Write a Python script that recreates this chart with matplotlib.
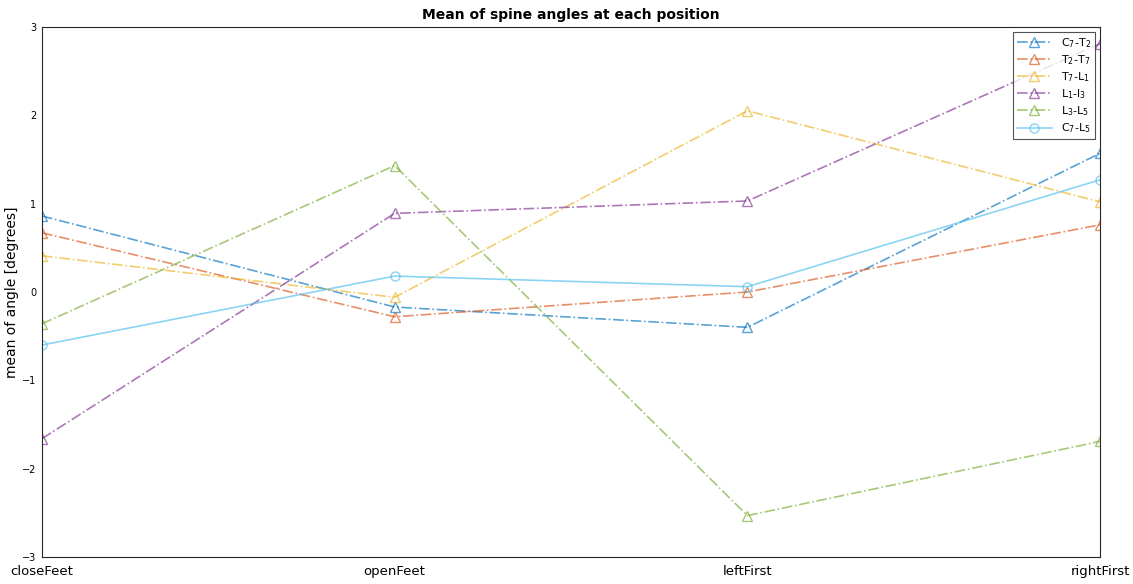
import numpy as np
import matplotlib.pyplot as plt

positions = ["closeFeet", "openFeet", "leftFirst", "rightFirst"]

c7_t2 = [0.86, -0.17, -0.40, 1.57]
t2_t7 = [0.67, -0.28, 0.00, 0.76]
t7_l1 = [0.41, -0.06, 2.05, 1.02]
l1_l3 = [-1.66, 0.89, 1.03, 2.81]
l3_l5 = [-0.36, 1.43, -2.53, -1.69]
c7_l5 = [-0.60, 0.18, 0.06, 1.27]

labels = ["C$_7$-T$_2$", "T$_2$-T$_7$", "T$_7$-L$_1$", "L$_1$-l$_3$", "L$_3$-L$_5$", "C$_7$-L$_5$"]
colors = ["#0072BD", "#D95319", "#EDB120", "#7E2F8E", "#77AC30", "#4DBEEE"]

plt.rcParams['mathtext.default'] = 'regular'

fig = plt.figure(figsize=(11.33, 5.84), dpi=100)
ax = fig.add_axes([0.037, 0.046, 0.934, 0.908])

x = np.arange(len(positions))
series = [c7_t2, t2_t7, t7_l1, l1_l3, l3_l5]
for vals, lab, col in zip(series, labels[:5], colors[:5]):
    ax.plot(x, vals, linestyle="-.", marker="^", markersize=6.5, markerfacecolor="none",
            color=col, alpha=0.65, linewidth=1.2, label=lab)
ax.plot(x, c7_l5, linestyle="-", marker="o", markersize=6.5, markerfacecolor="none",
        color=colors[5], alpha=0.65, linewidth=1.2, label=labels[5])

ax.set_xlim(0, 3)
ax.set_ylim(-3, 3)
ax.set_xticks(x)
ax.set_xticklabels(positions, fontsize=9.5)
ax.set_yticks(range(-3, 4))
ax.tick_params(axis="y", labelsize=7, direction="in", length=0, pad=4)
ax.tick_params(axis="x", direction="in", length=0, pad=6)
for s in ax.spines.values():
    s.set_color("#262626")
    s.set_linewidth(0.8)

ax.set_title("Mean of spine angles at each position", fontsize=10, fontweight="bold", pad=6)
ax.set_ylabel("mean of angle [degrees]", fontsize=10, labelpad=2)

leg = ax.legend(loc="upper right", fontsize=8, frameon=True, fancybox=False,
                edgecolor="#262626", borderaxespad=0.5, handlelength=3.2,
                labelspacing=0.3, borderpad=0.3)
leg.get_frame().set_linewidth(0.8)

fig.savefig("out.png", dpi=100)
